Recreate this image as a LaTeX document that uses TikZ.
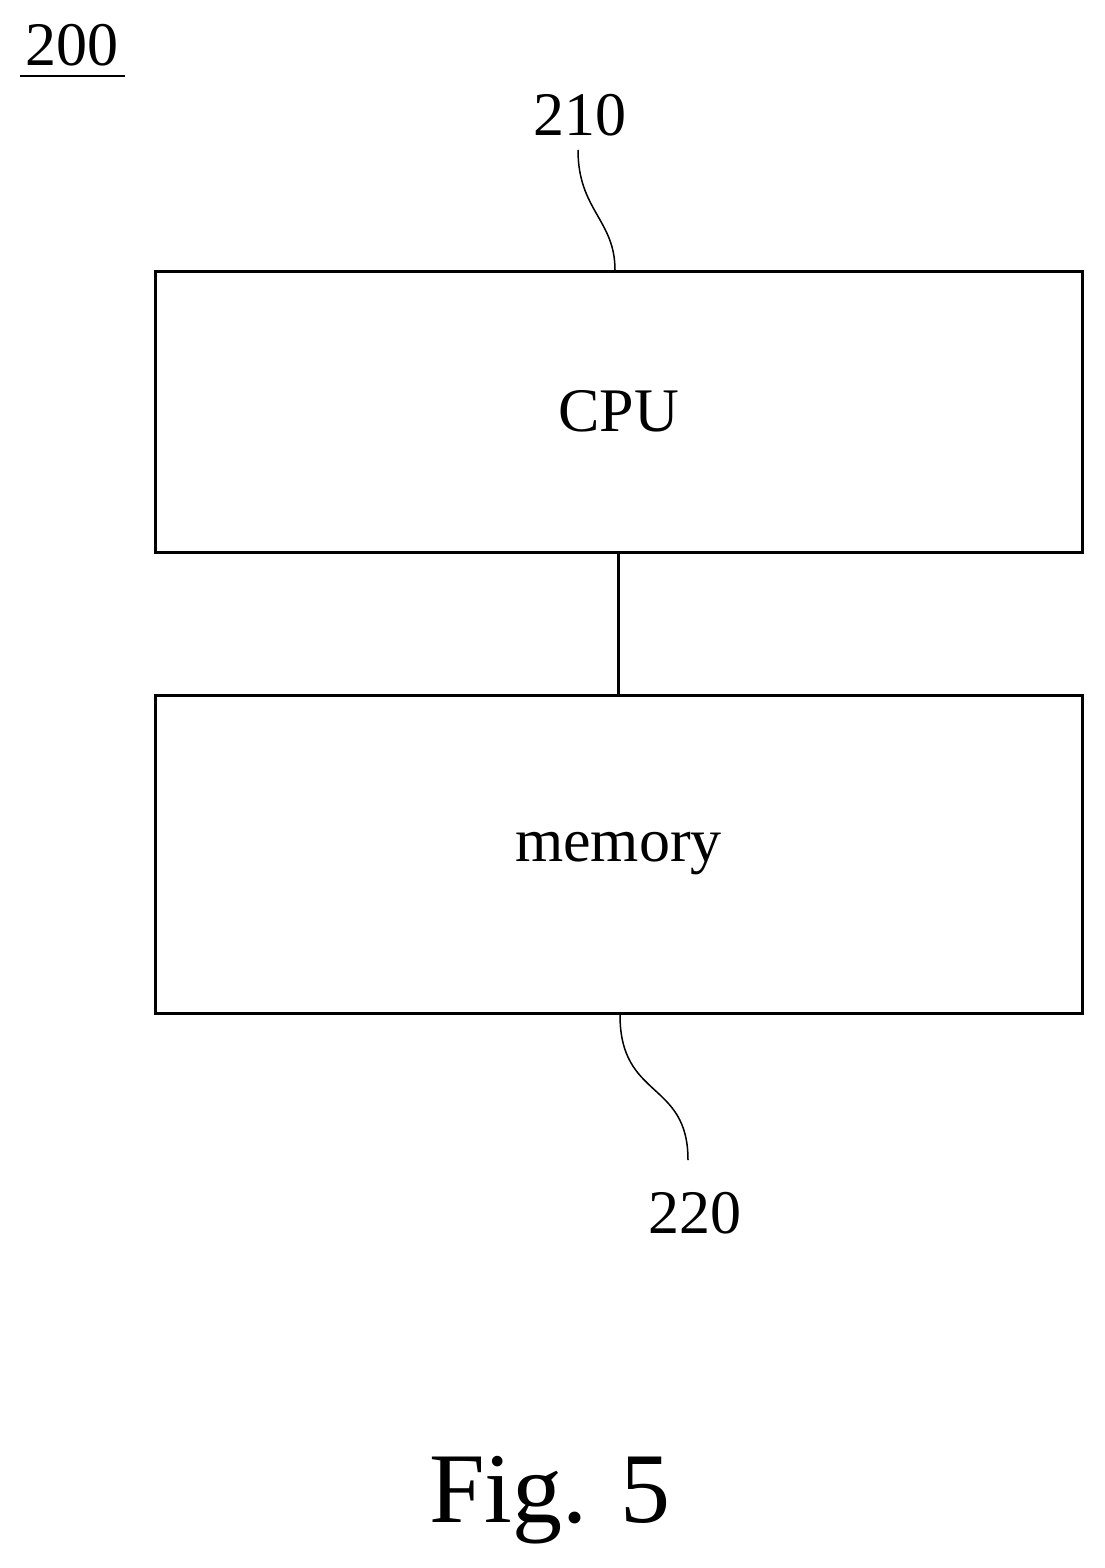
\documentclass[tikz,border=0pt]{standalone}
\usepackage{fontspec}
\setmainfont{Liberation Serif}
\begin{document}
\begin{tikzpicture}[x=1pt,y=-1pt,
 box/.style={draw,line width=3pt},
 lead/.style={line width=1.5pt},
 lbl/.style={font=\fontsize{62}{70}\selectfont}]
\useasboundingbox (0,0) rectangle (1104,1568);
\node[box,minimum width=927pt,minimum height=281pt] (cpu) at (618.5,411.5) {};
\node[lbl] at (cpu.center) {CPU};
\node[box,minimum width=927pt,minimum height=318pt] (mem) at (618.5,854) {};
\node[lbl] at (mem.center) {memory};
\draw[line width=3pt] (cpu.south -| 618,0) -- (mem.north -| 618,0);
\node[lbl] (l210) at (580,115) {210};
\node[lbl] (l220) at (695,1213) {220};
\node[lbl] (l200) at (72,45) {200};
\draw[line width=2.5pt] (20,76) -- (125,76);
\coordinate (a1) at (615,270);
\coordinate (a2) at (578,150);
\draw[lead] (a1) .. controls (615,220) and (578,210) .. (a2);
\coordinate (b1) at (620,1015);
\coordinate (b2) at (688,1160);
\draw[lead] (b1) .. controls (620,1100) and (688,1080) .. (b2);
\node[font=\fontsize{100}{110}\selectfont] (fig) at (550,1500) {Fig. 5};
\end{tikzpicture}
\end{document}
